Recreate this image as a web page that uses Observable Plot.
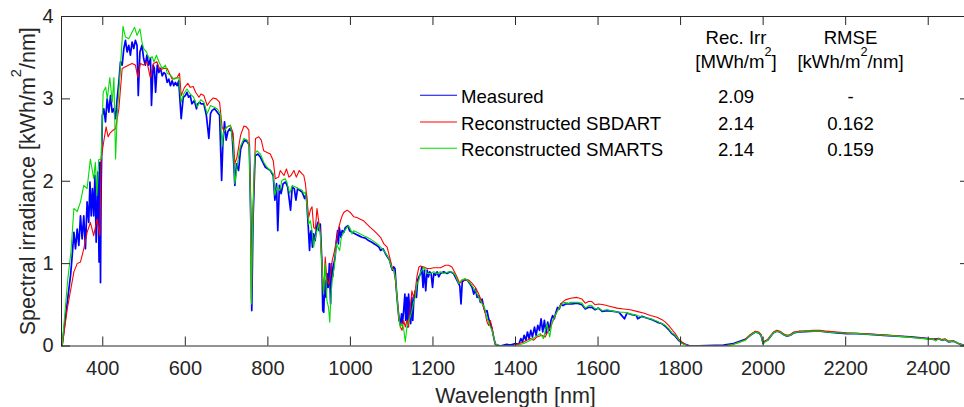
<!DOCTYPE html>
<html>
<head>
<meta charset="utf-8">
<script src="https://cdn.jsdelivr.net/npm/d3@7"></script>
<script src="https://cdn.jsdelivr.net/npm/@observablehq/plot@0.6"></script>
<style>
  html, body { margin: 0; padding: 0; background: #fff; }
  #chart { width: 964px; height: 407px; overflow: hidden; }
  svg { display: block; }
</style>
</head>
<body>
<div id="chart"></div>
<script>
// Spectral irradiance, [wavelength nm, kWh/m²/nm]
const measured = [
  [300,0],[302,0.03],[314,0.53],[322,0.86],[326,1.10],[330,1.38],[334,1.18],[338,1.42],[342,1.22],[346,1.58],[350,1.30],[354,1.58],[358,1.18],[362,1.75],[366,1.50],[369,1.99],[372,1.58],[375,1.91],[378,1.58],[381,2.07],[384,1.26],[388,2.11],[391,1.02],[393,2.23],[394.5,0.77],[396,1.91],[399,2.80],[402.5,2.88],[406.6,2.72],[410.6,3.0],[414.7,2.84],[418.7,3.04],[422.7,2.84],[426.8,2.88],[430.8,2.76],[434.8,3.0],[438.9,3.2],[442.9,3.45],[447,3.41],[451,3.61],[455,3.71],[459,3.57],[463,3.65],[467,3.53],[471,3.69],[475,3.61],[479,3.71],[483,3.65],[486,3.04],[490,3.57],[495,3.65],[499,3.49],[503,3.41],[507,3.53],[511,3.41],[515.6,3.49],[518,2.92],[522,3.41],[525,3.37],[528,3.08],[532,3.41],[536,3.32],[540,3.37],[544,3.28],[548,3.32],[552,3.30],[556,3.20],[560,3.24],[564,3.16],[568,3.22],[572,3.16],[576,3.20],[580,3.16],[584,3.22],[590,2.76],[595,3.02],[600,3.04],[604,3.08],[608,3.02],[612,3.04],[616,2.94],[622,2.98],[627,2.88],[630,2.94],[635,2.96],[638,2.94],[645,2.94],[651,2.80],[657,2.52],[661,2.82],[665,2.86],[671,2.88],[677,2.84],[683,2.80],[688,2.01],[691,2.46],[695,2.72],[699,2.50],[703,2.60],[708,2.64],[713,2.60],[717,2.25],[720,1.95],[724,2.21],[729,2.13],[734,2.39],[739,2.46],[744,2.50],[750,2.48],[755,2.44],[759,1.44],[761,0.43],[764,1.52],[769,2.31],[776,2.33],[782,2.29],[788,2.23],[794,2.17],[800,2.15],[806,2.13],[813,2.07],[817,1.77],[821,1.97],[824,1.40],[828,1.95],[832,1.85],[837,1.97],[843,1.99],[848,1.93],[855,1.65],[859,1.93],[864,1.91],[868,1.77],[872,1.91],[877,1.89],[883,1.87],[889,1.79],[893,1.85],[898,1.44],[901,1.16],[903,1.36],[905,1.40],[908,1.20],[911,1.36],[914.5,1.28],[918,1.44],[921,1.50],[924,1.40],[927,1.48],[931,1.0],[933,0.43],[935.4,0.41],[938,0.80],[941,0.59],[943.5,0.88],[946,0.71],[949,1.0],[952,0.51],[954,1.0],[957,0.84],[960,1.0],[963,1.08],[966,1.28],[969,1.40],[971,1.24],[973,1.44],[977,1.32],[980,1.40],[984,1.38],[988,1.44],[994,1.46],[998,1.40],[1004,1.38],[1012,1.36],[1020,1.34],[1028,1.32],[1036,1.31],[1044,1.28],[1052,1.26],[1061,1.23],[1069,1.20],[1073,1.16],[1079,1.18],[1085,1.12],[1090,1.08],[1095,1.04],[1099,0.96],[1102,0.92],[1105,0.96],[1108,0.94],[1111,0.71],[1115,0.47],[1118,0.31],[1121,0.27],[1124,0.39],[1126,0.27],[1129,0.43],[1132,0.63],[1134,0.31],[1136.5,0.59],[1139,0.23],[1141,0.63],[1144,0.39],[1146,0.27],[1149,0.59],[1151,0.31],[1153.5,0.55],[1157,0.67],[1160,0.59],[1163,0.80],[1166,0.84],[1170,0.88],[1173,0.96],[1176,0.71],[1179,0.92],[1182.5,0.67],[1186,0.92],[1189,0.84],[1192,0.90],[1195.5,0.88],[1199,0.71],[1202,0.88],[1206,0.86],[1210,0.90],[1214,0.84],[1218,0.88],[1226,0.90],[1234,0.88],[1242,0.90],[1250,0.88],[1258,0.80],[1265,0.73],[1268,0.51],[1271,0.78],[1276,0.80],[1283,0.80],[1289,0.76],[1295,0.71],[1299,0.63],[1303,0.69],[1307,0.59],[1311,0.61],[1315,0.53],[1319,0.57],[1323,0.47],[1327,0.41],[1331,0.43],[1335,0.33],[1339,0.27],[1343,0.21],[1347,0.11],[1351,0.02],[1363,0.0],[1379,0.02],[1387,0.01],[1400,0.03],[1408,0.02],[1413,0.09],[1417,0.05],[1421,0.13],[1425,0.07],[1429,0.17],[1433,0.09],[1437,0.19],[1441,0.11],[1446,0.23],[1450,0.13],[1454,0.25],[1458,0.19],[1462,0.33],[1466,0.17],[1470,0.31],[1474,0.15],[1478,0.29],[1482,0.19],[1486,0.31],[1490,0.37],[1494,0.33],[1498,0.41],[1502,0.47],[1506,0.45],[1510,0.51],[1515,0.49],[1521,0.51],[1529,0.51],[1537,0.51],[1549,0.52],[1561,0.50],[1569,0.45],[1577,0.47],[1585,0.47],[1593,0.44],[1601,0.46],[1610,0.42],[1622,0.43],[1638,0.42],[1650,0.41],[1654,0.39],[1664,0.33],[1670,0.40],[1682,0.38],[1693,0.37],[1696,0.33],[1706,0.36],[1718,0.34],[1731,0.32],[1743,0.29],[1755,0.27],[1763,0.24],[1771,0.20],[1779,0.15],[1787,0.12],[1795,0.07],[1803,0.04],[1811,0.02],[1823,0.0],
  [1904,0.01],[1928,0.03],[1945,0.06],[1957,0.08],[1969,0.13],[1981,0.17],[1989,0.16],[1995,0.13],[2000,0.03],[2005,0.06],[2011,0.07],[2017,0.11],[2025,0.16],[2033,0.18],[2041,0.17],[2049,0.14],[2058,0.12],[2066,0.13],[2074,0.16],[2086,0.17],[2102,0.175],[2122,0.18],[2138,0.18],[2154,0.17],[2179,0.16],[2203,0.15],[2227,0.15],[2259,0.14],[2292,0.13],[2324,0.12],[2356,0.11],[2389,0.095],[2413,0.08],[2425,0.09],[2433,0.07],[2441,0.08],[2449,0.05],[2461,0.06],[2473,0.03],[2485,0.01],[2500,0.0]
];

const sbdart = [
  [300,0],[302,0.01],[314,0.45],[330,0.90],[338,1.0],[346,1.02],[354,1.18],[362,1.38],[370,1.50],[378,1.34],[386,1.54],[393,1.34],[396,2.27],[402,2.47],[408,2.66],[413,2.54],[417,2.58],[425,2.62],[431,2.64],[439,2.88],[447,3.37],[455,3.39],[463,3.41],[471,3.43],[479,3.41],[485,3.26],[491,3.43],[499,3.41],[507,3.45],[515,3.26],[523,3.43],[531,3.45],[539,3.35],[547,3.37],[556,3.37],[568,3.24],[580,3.26],[586,3.31],[590,3.04],[598,3.14],[606,3.19],[612,3.14],[619,3.15],[625,3.08],[633,3.02],[638,3.06],[645,3.04],[653,2.92],[661,2.98],[667,3.01],[675,3.0],[683,2.96],[689,2.66],[693,2.62],[701,2.66],[709,2.68],[716,2.58],[720,2.21],[725,2.29],[734,2.56],[742,2.67],[748,2.66],[754,2.62],[758,1.85],[760,0.55],[763,1.44],[770,2.52],[778,2.54],[784,2.50],[790,2.37],[798,2.35],[806,2.33],[813,2.25],[818,2.03],[826,2.05],[830,2.13],[839,2.07],[845,2.15],[851,2.05],[856,2.07],[863,2.13],[869,2.05],[876,2.13],[883,2.09],[887,2.07],[891,1.97],[895,1.77],[899,1.56],[903,1.65],[907,1.69],[911,1.44],[915,1.42],[919,1.67],[923,1.52],[927,1.40],[931,1.0],[935,0.63],[939,1.08],[943,0.80],[948,0.75],[952,0.88],[956,1.04],[960,1.12],[966,1.28],[972,1.44],[976,1.52],[980,1.58],[984,1.62],[992,1.65],[1000,1.62],[1008,1.57],[1016,1.56],[1024,1.54],[1032,1.52],[1040,1.48],[1048,1.44],[1057,1.40],[1065,1.36],[1073,1.32],[1081,1.24],[1089,1.20],[1093,1.12],[1097,1.04],[1101,0.96],[1105,0.92],[1109,0.80],[1113,0.59],[1117,0.39],[1121,0.23],[1125,0.19],[1129,0.31],[1133,0.23],[1137,0.31],[1141,0.23],[1145,0.47],[1149,0.67],[1153,0.59],[1157,0.67],[1161,0.84],[1166,0.96],[1170,0.97],[1178,0.96],[1186,0.94],[1194,0.94],[1202,0.95],[1210,0.95],[1218,0.95],[1222,0.96],[1230,0.98],[1238,0.98],[1246,0.96],[1252,0.90],[1258,0.84],[1265,0.76],[1270,0.80],[1278,0.80],[1287,0.80],[1295,0.76],[1303,0.71],[1311,0.63],[1319,0.53],[1323,0.47],[1327,0.39],[1331,0.29],[1335,0.25],[1339,0.31],[1343,0.23],[1347,0.11],[1351,0.03],[1355,0.0],[1390,0.0],[1404,0.02],[1420,0.05],[1436,0.09],[1444,0.07],[1452,0.11],[1464,0.13],[1472,0.11],[1480,0.19],[1488,0.27],[1496,0.37],[1504,0.45],[1513,0.53],[1521,0.56],[1533,0.58],[1549,0.59],[1561,0.57],[1569,0.52],[1577,0.54],[1585,0.54],[1593,0.50],[1601,0.51],[1614,0.50],[1630,0.48],[1646,0.46],[1662,0.45],[1678,0.44],[1694,0.42],[1710,0.40],[1727,0.37],[1743,0.35],[1755,0.32],[1763,0.29],[1771,0.25],[1779,0.20],[1787,0.15],[1795,0.09],[1803,0.05],[1815,0.01],[1832,0.0],
  [1904,0.0],[1928,0.02],[1945,0.05],[1957,0.08],[1969,0.14],[1981,0.18],[1989,0.17],[1995,0.14],[2000,0.04],[2005,0.06],[2011,0.08],[2017,0.12],[2025,0.17],[2033,0.19],[2041,0.18],[2049,0.15],[2058,0.13],[2066,0.14],[2074,0.17],[2086,0.18],[2102,0.185],[2122,0.19],[2138,0.19],[2154,0.18],[2179,0.17],[2203,0.16],[2227,0.155],[2259,0.145],[2292,0.135],[2324,0.125],[2356,0.11],[2389,0.095],[2413,0.085],[2425,0.09],[2433,0.08],[2441,0.085],[2449,0.06],[2461,0.06],[2473,0.03],[2485,0.01],[2500,0.0]
];

const smarts = [
  [300,0],[302,0.03],[315,0.8],[323,1.15],[330,1.67],[338,1.63],[346,1.75],[354,1.95],[362,1.91],[370,2.27],[378,2.03],[382,2.23],[386,1.83],[390,2.26],[396,2.27],[401,3.08],[407,3.14],[411,3.0],[417,3.26],[423,2.96],[427,3.26],[431,2.27],[435,2.8],[443,3.41],[449,3.88],[455,3.75],[463,3.73],[469,3.79],[477,3.87],[483,3.77],[490,3.85],[495,3.69],[499,3.61],[506,3.57],[512,3.49],[520,3.51],[524,3.45],[530,3.53],[536,3.45],[544,3.37],[552,3.41],[556,3.31],[564,3.29],[572,3.24],[584,3.26],[590,2.96],[596,3.06],[604,3.12],[612,3.06],[620,3.02],[629,2.90],[637,2.99],[645,2.96],[653,2.82],[661,2.92],[669,2.90],[677,2.88],[685,2.82],[689,2.42],[693,2.6],[701,2.66],[709,2.68],[716,2.46],[720,1.97],[725,2.17],[733,2.42],[742,2.52],[750,2.50],[755,2.42],[758,1.65],[760,0.51],[763,1.44],[768,2.33],[774,2.37],[782,2.33],[790,2.23],[798,2.17],[806,2.13],[813,2.09],[817,1.83],[822,1.93],[829,1.89],[834,2.01],[842,2.03],[846,1.99],[853,1.85],[859,1.95],[867,1.93],[875,1.91],[883,1.89],[887,1.85],[891,1.87],[895,1.69],[899,1.48],[903,1.52],[907,1.40],[911,1.20],[915,1.32],[919,1.40],[923,1.48],[927,1.36],[931,0.96],[935,0.63],[939,1.0],[943,0.55],[947,0.47],[950,0.29],[953,0.63],[957,0.84],[961,0.96],[966,1.24],[970,1.20],[974,1.16],[978,1.32],[982,1.36],[986,1.40],[992,1.44],[996,1.46],[1000,1.42],[1004,1.36],[1008,1.40],[1016,1.38],[1024,1.36],[1032,1.34],[1040,1.32],[1048,1.30],[1057,1.27],[1065,1.24],[1073,1.20],[1081,1.16],[1089,1.10],[1093,1.06],[1097,1.0],[1101,0.94],[1105,0.92],[1109,0.84],[1113,0.59],[1117,0.35],[1121,0.23],[1125,0.27],[1129,0.21],[1133,0.05],[1137,0.23],[1141,0.31],[1145,0.35],[1149,0.43],[1153,0.53],[1157,0.59],[1161,0.75],[1166,0.80],[1170,0.90],[1174,0.92],[1178,0.96],[1186,0.88],[1194,0.88],[1202,0.90],[1210,0.88],[1218,0.90],[1226,0.88],[1238,0.90],[1246,0.90],[1254,0.86],[1262,0.76],[1270,0.80],[1278,0.82],[1287,0.78],[1295,0.73],[1303,0.67],[1311,0.59],[1319,0.51],[1323,0.49],[1327,0.43],[1331,0.33],[1335,0.29],[1339,0.23],[1343,0.19],[1347,0.11],[1351,0.03],[1359,0.0],[1404,0.01],[1420,0.03],[1436,0.07],[1448,0.11],[1460,0.15],[1468,0.09],[1476,0.27],[1483,0.11],[1488,0.27],[1494,0.35],[1500,0.41],[1509,0.49],[1517,0.53],[1529,0.52],[1533,0.53],[1549,0.53],[1561,0.52],[1569,0.46],[1577,0.49],[1585,0.49],[1593,0.45],[1601,0.46],[1610,0.43],[1622,0.44],[1638,0.42],[1650,0.41],[1662,0.41],[1678,0.39],[1694,0.37],[1710,0.35],[1727,0.33],[1743,0.30],[1755,0.27],[1763,0.25],[1771,0.21],[1779,0.16],[1787,0.13],[1795,0.08],[1803,0.03],[1815,0.01],[1832,0.0],
  [1904,0.0],[1928,0.02],[1945,0.05],[1957,0.07],[1969,0.13],[1981,0.17],[1989,0.16],[1995,0.13],[2000,0.03],[2005,0.05],[2011,0.07],[2017,0.11],[2025,0.16],[2033,0.18],[2041,0.17],[2049,0.14],[2058,0.12],[2066,0.13],[2074,0.16],[2086,0.17],[2102,0.18],[2122,0.18],[2138,0.18],[2154,0.17],[2179,0.16],[2203,0.155],[2227,0.15],[2259,0.14],[2292,0.13],[2324,0.12],[2356,0.105],[2389,0.09],[2413,0.08],[2418,0.06],[2425,0.09],[2433,0.07],[2441,0.08],[2449,0.05],[2461,0.06],[2473,0.03],[2485,0.01],[2500,0.0]
];

// Legend entries and summary table
const seriesNames = ["Measured", "Reconstructed SBDART", "Reconstructed SMARTS"];
const seriesColors = ["#0000ff", "#ff0000", "#00dd00"];
const recIrr = ["2.09", "2.14", "2.14"];
const rmse = ["-", "0.162", "0.159"];
const tableHeaders = [["Rec. Irr", "[MWh/m^2]"], ["RMSE", "[kWh/m^2/nm]"]];

// Axis ticks and labels
const xTicks = [400, 600, 800, 1000, 1200, 1400, 1600, 1800, 2000, 2200, 2400];
const yTicks = [0, 1, 2, 3, 4];
const xLabel = "Wavelength [nm]";
const yLabel = "Spectral irradiance [kWh/m^2/nm]";

const axisColor = "#262626";
const font = "'Liberation Sans', Arial, Helvetica, sans-serif";

const chart = Plot.plot({
  width: 964,
  height: 407,
  marginLeft: 61,
  marginRight: -5,
  marginTop: 16,
  marginBottom: 61.5,
  style: {fontFamily: font, fontSize: "20px", color: axisColor, background: "#fff", overflow: "hidden"},
  x: {domain: [300, 2500], type: "linear"},
  y: {domain: [0, 4]},
  marks: [
    Plot.line(measured, {x: d => d[0], y: d => d[1], stroke: seriesColors[0], strokeWidth: 1.7, clip: true}),
    Plot.line(sbdart, {x: d => d[0], y: d => d[1], stroke: seriesColors[1], strokeWidth: 1.1, clip: true}),
    Plot.line(smarts, {x: d => d[0], y: d => d[1], stroke: seriesColors[2], strokeWidth: 1.1, clip: true}),
    Plot.frame({stroke: axisColor, strokeWidth: 1}),
    // inward tick marks on all four sides
    Plot.ruleX(xTicks, {x: d => d, insetTop: 320.5, stroke: axisColor}),
    Plot.ruleX(xTicks, {x: d => d, insetBottom: 320.5, stroke: axisColor}),
    Plot.ruleY(yTicks, {y: d => d, insetRight: 899, stroke: axisColor}),
    Plot.ruleY(yTicks, {y: d => d, insetLeft: 899, stroke: axisColor}),
    Plot.axisX(xTicks, {tickSize: 0, tickPadding: 14.5, label: null, tickFormat: d => String(d)}),
    Plot.axisY(yTicks, {tickSize: 0, tickPadding: 8, label: null, tickFormat: d => String(d)}),
    Plot.text([xLabel], {frameAnchor: "bottom", textAnchor: "middle", dy: 57, lineAnchor: "bottom", fontSize: 21.5, fill: axisColor}),
    Plot.text([yLabel], {frameAnchor: "left", textAnchor: "middle", rotate: -90, dx: -27, lineAnchor: "bottom", fontSize: 21.5, fill: axisColor})
  ]
});

// Turn "^2" markers into raised superscripts
function writeRich(textSel, str, size) {
  textSel.text(null);
  const parts = str.split("^2");
  const rise = size * 0.62;
  parts.forEach((p, i) => {
    if (i > 0) {
      textSel.append("tspan").attr("font-size", size * 0.68).attr("dy", -rise).text("2");
      textSel.append("tspan").attr("dy", rise).text(p);
    } else {
      textSel.append("tspan").text(p);
    }
  });
}

d3.select(chart).selectAll("text").each(function() {
  const t = this.textContent;
  if (t.includes("^2")) writeRich(d3.select(this), t, 21.5);
});

// Legend and summary table inside the axes
const overlay = d3.select(chart).append("g")
  .attr("font-family", font)
  .attr("font-size", 18.6)
  .attr("text-anchor", "start")
  .attr("fill", "#000");

const rowBaseline = [103.3, 130, 156.3];
const colX = [736, 850.5];

seriesNames.forEach((name, i) => {
  overlay.append("line")
    .attr("x1", 420).attr("x2", 457)
    .attr("y1", rowBaseline[i] - 8).attr("y2", rowBaseline[i] - 8)
    .attr("stroke", seriesColors[i]).attr("stroke-width", 1.1);
  overlay.append("text").attr("x", 461).attr("y", rowBaseline[i]).attr("text-anchor", "start").text(name);
  overlay.append("text").attr("x", colX[0]).attr("y", rowBaseline[i]).attr("text-anchor", "middle").text(recIrr[i]);
  overlay.append("text").attr("x", colX[1]).attr("y", rowBaseline[i]).attr("text-anchor", "middle").text(rmse[i]);
});

tableHeaders.forEach((lines, c) => {
  const t1 = overlay.append("text").attr("x", colX[c]).attr("y", 44.3).attr("text-anchor", "middle");
  writeRich(t1, lines[0], 18.6);
  const t2 = overlay.append("text").attr("x", colX[c]).attr("y", 67.7).attr("text-anchor", "middle");
  writeRich(t2, lines[1], 18.6);
});

document.getElementById("chart").append(chart);
</script>
</body>
</html>
